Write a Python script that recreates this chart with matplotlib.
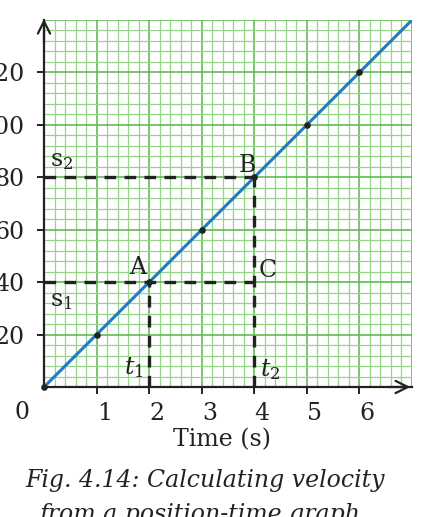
import matplotlib.pyplot as plt
import matplotlib.transforms as mtrans
import numpy as np

plt.rcParams['font.family'] = 'DejaVu Serif'
plt.rcParams['mathtext.fontset'] = 'dejavuserif'

# data
times = [0, 1, 2, 3, 4, 5, 6]
positions = [0, 20, 40, 60, 80, 100, 120]
line_t = [0, 7]
line_s = [0, 140]
x_ticks = [1, 2, 3, 4, 5, 6]
y_ticks = [20, 40, 60, 80, 100, 120]
t1, s1 = 2, 40
t2, s2 = 4, 80

fig = plt.figure(figsize=(4.33, 5.17), dpi=100)
ax = fig.add_axes([44/433, 130/517, 368/433, 367/517])
ax.set_xlim(0, 7)
ax.set_ylim(0, 140)

# graph paper
minor_c = '#96d48a'
major_c = '#62bb55'
for xv in np.arange(0, 7.01, 0.2):
    major = abs(xv - round(xv)) < 1e-6
    ax.axvline(xv, color=major_c if major else minor_c, lw=1.2 if major else 0.9, zorder=0)
for yv in np.arange(0, 140.01, 4):
    major = abs(yv % 20) < 1e-6
    ax.axhline(yv, color=major_c if major else minor_c, lw=1.2 if major else 0.9, zorder=0)

for sp in ['top', 'right']:
    ax.spines[sp].set_visible(False)
ax.spines['left'].set_linewidth(1.6)
ax.spines['bottom'].set_linewidth(1.6)
ax.spines['left'].set_color('#222222')
ax.spines['bottom'].set_color('#222222')

# arrow heads
ax.annotate('', xy=(0, 141.5), xytext=(0, 130), annotation_clip=False,
            arrowprops=dict(arrowstyle='->', lw=1.6, color='#222222', mutation_scale=22))
ax.annotate('', xy=(7.02, 0), xytext=(6.5, 0), annotation_clip=False,
            arrowprops=dict(arrowstyle='->', lw=1.6, color='#222222', mutation_scale=22))

ax.set_xticks(x_ticks)
ax.set_xticklabels([str(v) for v in x_ticks])
ax.set_yticks(y_ticks)
ax.set_yticklabels([str(v) for v in y_ticks])
ax.tick_params(axis='both', direction='out', length=5, width=1.4, color='#222222',
               labelsize=17, labelcolor='#222222')
ax.tick_params(axis='x', pad=6)
ax.tick_params(axis='y', pad=9)
shift = mtrans.ScaledTranslation(8/100, 0, fig.dpi_scale_trans)
for lab in ax.get_xticklabels():
    lab.set_transform(lab.get_transform() + shift)
ax.text(-0.42, -9.8, '0', fontsize=17, color='#222222', ha='center', va='center', clip_on=False)

# the line and the points
ax.plot(line_t, line_s, color='#1f7cc0', lw=2.2, zorder=3)
ax.scatter(times, positions, s=14, color='#222222', zorder=4, clip_on=False)

# dashed guides
dash = dict(color='#222222', lw=2.4, ls=(0, (3.5, 2.5)), zorder=2)
ax.plot([0, t2], [s1, s1], **dash)
ax.plot([t1, t1], [0, s1], **dash)
ax.plot([0, t2], [s2, s2], **dash)
ax.plot([t2, t2], [0, s2], **dash)

tk = dict(fontsize=17, color='#222222', ha='center', va='center')
ax.text(1.79, 45.5, 'A', **tk)
ax.text(3.87, 84.5, 'B', **tk)
ax.text(4.25, 44.5, 'C', **tk)
ax.text(0.33, 86.5, r'$\mathrm{s}_2$', **tk)
ax.text(0.33, 33, r'$\mathrm{s}_1$', **tk)
ax.text(1.7, 7.5, r'$t_1$', **tk)
ax.text(4.3, 6.5, r'$t_2$', **tk)

fig.text(222/433, 1 - 440/517, 'Time (s)', fontsize=17, color='#222222', ha='center', va='center')
fig.text(205/433, 1 - 480/517, 'Fig. 4.14: Calculating velocity', fontsize=17,
         style='italic', color='#222222', ha='center', va='center')
fig.text(200/433, 1 - 514/517, 'from a position-time graph', fontsize=17,
         style='italic', color='#222222', ha='center', va='center')

fig.savefig('out.png', dpi=100)
